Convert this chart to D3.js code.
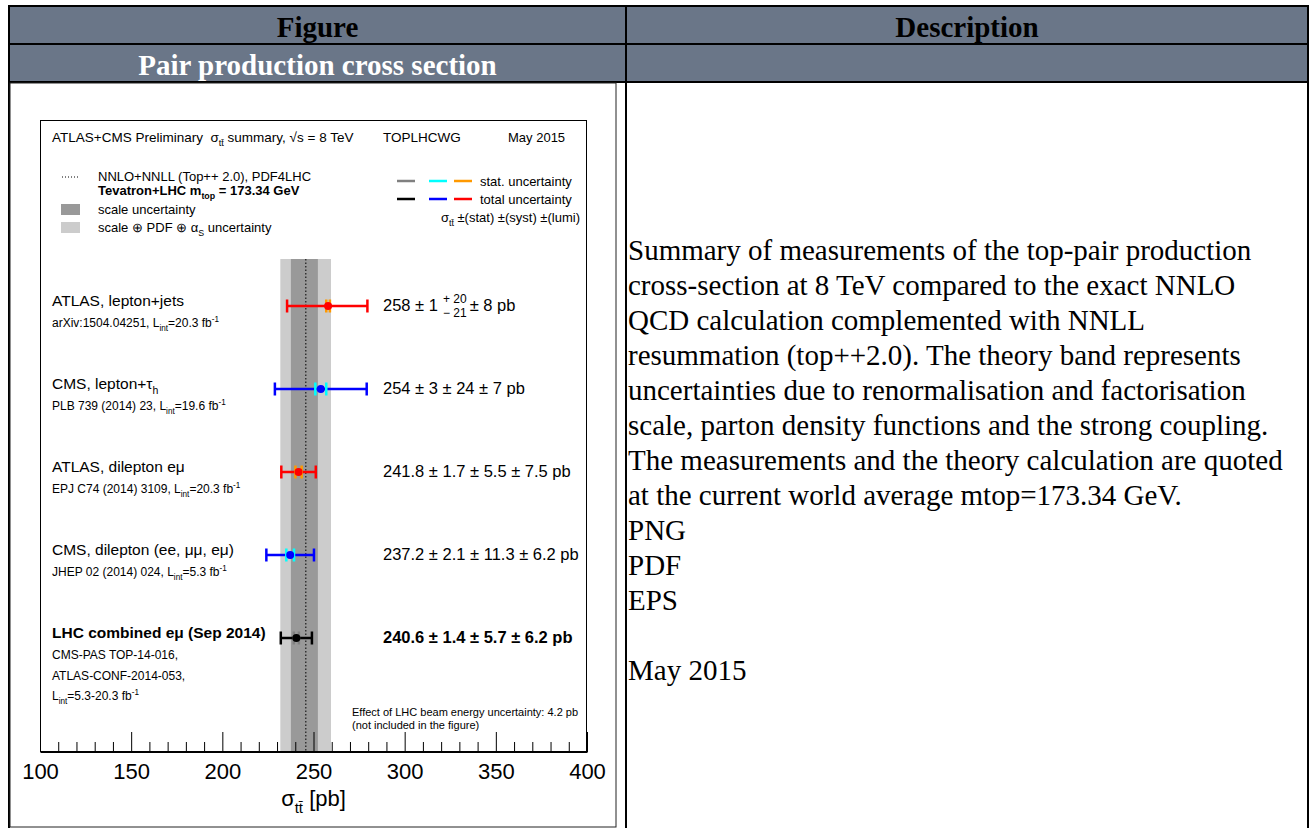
<!DOCTYPE html>
<html><head><meta charset="utf-8">
<script src="https://cdn.jsdelivr.net/npm/d3@7"></script>
<style>
html,body{margin:0;padding:0;background:#fff;}
svg{display:block;}
text{white-space:pre;}
</style></head><body>
<svg id="c" width="1311" height="828"></svg>
<script>
// ---------- data ----------
const headerTitles = ["Figure", "Description"];
const sectionTitle = "Pair production cross section";
const descriptionLines = [
  "Summary of measurements of the top-pair production",
  "cross-section at 8 TeV compared to the exact NNLO",
  "QCD calculation complemented with NNLL",
  "resummation (top++2.0). The theory band represents",
  "uncertainties due to renormalisation and factorisation",
  "scale, parton density functions and the strong coupling.",
  "The measurements and the theory calculation are quoted",
  "at the current world average mtop=173.34 GeV.",
  "PNG", "PDF", "EPS", "", "May 2015"
];
const plotTitle = "ATLAS+CMS Preliminary  σ_{tt̄} summary, √s = 8 TeV";
const plotGroup = "TOPLHCWG";
const plotDate = "May 2015";
const theoryLegend = ["NNLO+NNLL (Top++ 2.0), PDF4LHC", "Tevatron+LHC m_{top} = 173.34 GeV"];
const bandLegend = ["scale uncertainty", "scale ⊕ PDF ⊕ α_{S} uncertainty"];
const errLegend = ["stat. uncertainty", "total uncertainty"];
const errFormula = "σ_{tt̄} ±(stat) ±(syst) ±(lumi)";
const noteLines = ["Effect of LHC beam energy uncertainty: 4.2 pb", "(not included in the figure)"];
const axisTitle = "σ_{tt̄} [pb]";

const measNames = ["ATLAS, lepton+jets", "CMS, lepton+τ_{h}", "ATLAS, dilepton eμ", "CMS, dilepton (ee, μμ, eμ)", "LHC combined eμ (Sep 2014)"];
const measRefs = [
  ["arXiv:1504.04251, L_{int}=20.3 fb^{-1}"],
  ["PLB 739 (2014) 23, L_{int}=19.6 fb^{-1}"],
  ["EPJ C74 (2014) 3109, L_{int}=20.3 fb^{-1}"],
  ["JHEP 02 (2014) 024, L_{int}=5.3 fb^{-1}"],
  ["CMS-PAS TOP-14-016,", "ATLAS-CONF-2014-053,", "L_{int}=5.3-20.3 fb^{-1}"]
];
const measExperiment = ["ATLAS", "CMS", "ATLAS", "CMS", "LHC"];
const measCentral = [258, 254, 241.8, 237.2, 240.6];
const measStat = [1, 3, 1.7, 2.1, 1.4];
const measSystUp = [20, 24, 5.5, 11.3, 5.7];
const measSystDown = [21, 24, 5.5, 11.3, 5.7];
const measLumi = [8, 7, 7.5, 6.2, 6.2];
const measCombined = [false, false, false, false, true];

const theoryCentral = 245.8;
const theoryScale = [237.6, 252.4];
const theoryTotal = [231.8, 259.6];

const majorTicks = [100, 150, 200, 250, 300, 350, 400];
const minorTicks = [110,120,130,140,160,170,180,190,210,220,230,240,260,270,280,290,310,320,330,340,360,370,380,390];

// ---------- styles ----------
const colTotal = {ATLAS: "#ff0000", CMS: "#0000ff", LHC: "#000000"};
const colStat = {ATLAS: "#ff9900", CMS: "#00ffff", LHC: "#808080"};
const SANS = "'Liberation Sans', Arial, Helvetica, sans-serif";
const SERIF = "'Liberation Serif', 'Times New Roman', serif";
const HEAD = "#6a7688";

const svg = d3.select("#c");

function rich(sel, str, fs) {
  const re = /([_^])\{([^}]*)\}/g;
  let last = 0, m; const parts = [];
  while ((m = re.exec(str))) {
    if (m.index > last) parts.push({t: str.slice(last, m.index), k: "n"});
    parts.push({t: m[2], k: m[1] === "_" ? "sub" : "sup"});
    last = re.lastIndex;
  }
  if (last < str.length) parts.push({t: str.slice(last), k: "n"});
  let cur = 0;
  parts.forEach(p => {
    const target = p.k === "sub" ? fs * 0.32 : p.k === "sup" ? -fs * 0.42 : 0;
    const ts = sel.append("tspan").text(p.t).attr("dy", target - cur);
    if (p.k !== "n") ts.attr("font-size", fs * 0.68);
    cur = target;
  });
  return sel;
}
function label(g, x, yc, str, fs, opts = {}) {
  const t = g.append("text").attr("x", x).attr("y", yc + fs * 0.35)
    .attr("font-family", opts.family || SANS).attr("font-size", fs)
    .attr("fill", opts.fill || "#000");
  if (opts.bold) t.attr("font-weight", "bold");
  if (opts.anchor) t.attr("text-anchor", opts.anchor);
  return rich(t, str, fs);
}

// ---------- table ----------
const T = {left: 9, mid: 626, right: 1308, top: 6, r1: 44, r2: 82, bottom: 840};
svg.append("rect").attr("x", T.left).attr("y", T.top).attr("width", T.right - T.left).attr("height", T.r2 - T.top).attr("fill", HEAD);
const tb = svg.append("g").attr("stroke", "#000").attr("stroke-width", 2);
[T.top, T.r1, T.r2].forEach(yy => tb.append("line").attr("x1", T.left - 1).attr("x2", T.right + 1).attr("y1", yy).attr("y2", yy));
[T.left, T.mid, T.right].forEach(xx => tb.append("line").attr("x1", xx).attr("x2", xx).attr("y1", T.top).attr("y2", T.bottom));

label(svg, (T.left + T.mid) / 2, 27, headerTitles[0], 29, {family: SERIF, bold: true, anchor: "middle"});
label(svg, (T.mid + T.right) / 2, 27, headerTitles[1], 29, {family: SERIF, bold: true, anchor: "middle"});
label(svg, (T.left + T.mid) / 2, 65, sectionTitle, 29, {family: SERIF, bold: true, anchor: "middle", fill: "#fff"});

const descY = d3.scaleLinear().domain([0, 1]).range([251, 286]);
descriptionLines.forEach((s, i) => { if (s) label(svg, 628, descY(i) - 1, s, 29, {family: SERIF}); });

// image frame
svg.append("rect").attr("x", 10).attr("y", 83).attr("width", 606).attr("height", 744)
  .attr("fill", "#fff").attr("stroke", "#222").attr("stroke-width", 1);

// ---------- plot ----------
const P = {left: 40, right: 587, top: 120, bottom: 752, bandTop: 259};
const x = d3.scaleLinear().domain([100, 400]).range([P.left, P.right]);
const y = d3.scaleLinear().domain([0, 4]).range([306, 638]);
const g = svg.append("g");

g.append("rect").attr("x", P.left).attr("y", P.top).attr("width", P.right - P.left).attr("height", P.bottom - P.top).attr("fill", "#fff");

// theory band
g.append("rect").attr("x", x(theoryTotal[0])).attr("width", x(theoryTotal[1]) - x(theoryTotal[0]))
  .attr("y", P.bandTop).attr("height", P.bottom - P.bandTop).attr("fill", "#cccccc");
g.append("rect").attr("x", x(theoryScale[0])).attr("width", x(theoryScale[1]) - x(theoryScale[0]))
  .attr("y", P.bandTop).attr("height", P.bottom - P.bandTop).attr("fill", "#999999");
g.append("line").attr("x1", x(theoryCentral)).attr("x2", x(theoryCentral)).attr("y1", P.bandTop).attr("y2", P.bottom)
  .attr("stroke", "#000").attr("stroke-width", 1).attr("stroke-dasharray", "1.5,2");

// axes
const axMajor = d3.axisBottom(x).tickValues(majorTicks).tickSizeInner(-20).tickSizeOuter(0).tickPadding(11).tickFormat(d3.format("d"));
const axMinor = d3.axisBottom(x).tickValues(minorTicks).tickSizeInner(-10).tickSizeOuter(0).tickFormat("");
const ga = g.append("g").attr("transform", `translate(0,${P.bottom})`).call(axMajor);
ga.selectAll("text").attr("font-family", SANS).attr("font-size", 22).attr("fill", "#000");
ga.selectAll("line").attr("stroke", "#000");
const gm = g.append("g").attr("transform", `translate(0,${P.bottom})`).call(axMinor);
gm.selectAll("line").attr("stroke", "#000");
gm.select(".domain").remove();

g.append("rect").attr("x", P.left + 0.5).attr("y", P.top + 0.5).attr("width", P.right - P.left - 1).attr("height", P.bottom - P.top - 1)
  .attr("fill", "none").attr("stroke", "#000").attr("stroke-width", 1);

label(g, (P.left + P.right) / 2, 798, axisTitle, 22, {anchor: "middle"});

// title
label(g, 52, 137, plotTitle, 13.5);
label(g, 383, 137, plotGroup, 13.5);
label(g, 508, 137, plotDate, 13);

// left legend
g.append("line").attr("x1", 62).attr("x2", 80).attr("y1", 177).attr("y2", 177).attr("stroke", "#000").attr("stroke-dasharray", "1,2");
label(g, 98, 176, theoryLegend[0], 13);
label(g, 98, 190, theoryLegend[1], 13, {bold: true});
g.append("rect").attr("x", 61).attr("y", 204).attr("width", 19).attr("height", 11).attr("fill", "#999999");
g.append("rect").attr("x", 61).attr("y", 222).attr("width", 19).attr("height", 11).attr("fill", "#cccccc");
label(g, 98, 209, bandLegend[0], 13);
label(g, 98, 227, bandLegend[1], 13);

// right legend
const legX = [[397, 415], [429, 447], [454, 472]];
const legExp = ["LHC", "CMS", "ATLAS"];
[colStat, colTotal].forEach((cmap, r) => {
  const yy = r === 0 ? 181 : 199;
  legExp.forEach((e, j) => g.append("line").attr("x1", legX[j][0]).attr("x2", legX[j][1]).attr("y1", yy).attr("y2", yy)
    .attr("stroke", cmap[e]).attr("stroke-width", 2.5));
  label(g, 480, yy, errLegend[r], 13);
});
label(g, 580, 217, errFormula, 13, {anchor: "end"});

// measurements
const capH = 6.5;
measCentral.forEach((c, i) => {
  const yy = y(i), e = measExperiment[i];
  const tUp = Math.sqrt(measStat[i] ** 2 + measSystUp[i] ** 2 + measLumi[i] ** 2);
  const tDn = Math.sqrt(measStat[i] ** 2 + measSystDown[i] ** 2 + measLumi[i] ** 2);
  const gr = g.append("g");
  gr.append("line").attr("x1", x(c - tDn)).attr("x2", x(c + tUp)).attr("y1", yy).attr("y2", yy)
    .attr("stroke", colTotal[e]).attr("stroke-width", 2.5);
  [c - tDn, c + tUp].forEach(v => gr.append("line").attr("x1", x(v)).attr("x2", x(v)).attr("y1", yy - capH).attr("y2", yy + capH)
    .attr("stroke", colTotal[e]).attr("stroke-width", 2.5));
  [c - measStat[i], c + measStat[i]].forEach(v => gr.append("line").attr("x1", x(v)).attr("x2", x(v)).attr("y1", yy - capH).attr("y2", yy + capH)
    .attr("stroke", colStat[e]).attr("stroke-width", 2.5));
  gr.append("circle").attr("cx", x(c)).attr("cy", yy).attr("r", 4).attr("fill", colTotal[e]);

  const bold = measCombined[i];
  label(g, 52, yy - 5, measNames[i], 15.5, {bold});
  measRefs[i].forEach((s, k) => label(g, 52, yy + 17 + k * 20.5, s, 12));

  // value text
  const fs = 16.5;
  if (measSystUp[i] === measSystDown[i]) {
    label(g, 383, yy - 0.5, `${c} ± ${measStat[i]} ± ${measSystUp[i]} ± ${measLumi[i]} pb`, fs, {bold});
  } else {
    const t1 = label(g, 383, yy - 0.5, `${c} ± ${measStat[i]}`, fs, {bold});
    const w = t1.node().getComputedTextLength();
    const sx = 383 + w + 5;
    label(g, sx, yy - 7, `+ ${measSystUp[i]}`, 12);
    const t2 = label(g, sx, yy + 6.5, `− ${measSystDown[i]}`, 12);
    const w2 = t2.node().getComputedTextLength();
    label(g, sx + w2 + 3, yy - 0.5, `± ${measLumi[i]} pb`, fs, {bold});
  }
});

label(g, 352, 712, noteLines[0], 11);
label(g, 352, 725, noteLines[1], 11);
</script>
</body></html>
